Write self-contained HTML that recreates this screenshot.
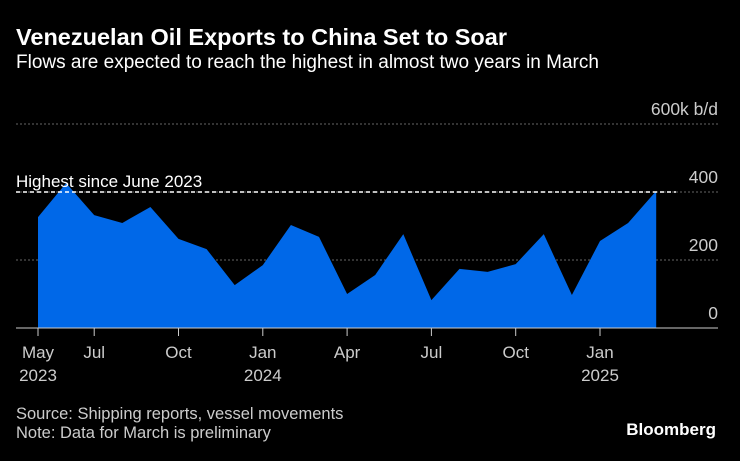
<!DOCTYPE html>
<html><head><meta charset="utf-8"><style>
body{margin:0;background:#000;width:740px;height:456px;overflow:hidden;font-family:"Liberation Sans",sans-serif;color:#fff}
svg text{font-family:"Liberation Sans",sans-serif}
</style></head><body>
<svg width="740" height="456">
<text x="16" y="45" font-size="23.5" font-weight="bold" fill="#fff">Venezuelan Oil Exports to China Set to Soar</text>
<text x="16" y="68" font-size="19" fill="#fff">Flows are expected to reach the highest in almost two years in March</text>
<g id="grid"></g>
<g id="area"></g>
<g id="xaxis"></g>
<text x="16" y="187" font-size="17" fill="#fff">Highest since June 2023</text>
<text x="16" y="419" font-size="16.5" fill="#ccc">Source: Shipping reports, vessel movements</text>
<text x="16" y="438" font-size="16.5" fill="#ccc">Note: Data for March is preliminary</text>
<text x="716" y="435" font-size="17" font-weight="bold" fill="#fff" text-anchor="end">Bloomberg</text>
</svg>
<script>
const values=[326,426,332,309,356,262,232,126,185,303,268,100,156,276,82,174,165,188,276,97,256,309,403];
const yTicks=[0,200,400,600];
const yTickLabels=["0","200","400","600k b/d"];
const xTickIdx=[0,2,5,8,11,14,17,20];
const xTickLabels=[["May","2023"],["Jul",""],["Oct",""],["Jan","2024"],["Apr",""],["Jul",""],["Oct",""],["Jan","2025"]];
const highest=400;
const NS="http://www.w3.org/2000/svg";
const x=i=>38+i*28.1;
const y=v=>328-v*68/200;
function mk(t,a,p){const e=document.createElementNS(NS,t);for(const k in a)e.setAttribute(k,a[k]);p.appendChild(e);return e;}
const grid=document.getElementById('grid'),area=document.getElementById('area'),xa=document.getElementById('xaxis');
yTicks.forEach((v,i)=>{
 if(v>0){const l=mk('line',{x1:16,x2:718,y1:y(v),y2:y(v),stroke:'#666','stroke-dasharray':'2,2'},grid);
 
 }
 const t=mk('text',{x:718,y:y(v)-9,'font-size':17.5,fill:'#ccc','text-anchor':'end'},grid);t.textContent=yTickLabels[i];
 
 
});
let d='M'+x(0)+','+y(0);
values.forEach((v,i)=>d+=' L'+x(i)+','+y(v));
d+=' L'+x(values.length-1)+','+y(0)+' Z';
const p=mk('path',{d:d,fill:'#0068e8'},area);


const hl=mk('line',{x1:16,x2:676,y1:y(highest),y2:y(highest),stroke:'#fff','stroke-width':1.5,'stroke-dasharray':'4,3'},area);


const ax=mk('line',{x1:16,x2:718,y1:328,y2:328,stroke:'#ccc'},xa);


xTickIdx.forEach((idx,k)=>{
 const tk=mk('line',{x1:x(idx),x2:x(idx),y1:328,y2:336,stroke:'#ccc'},xa);
 
 
 const t=mk('text',{x:x(idx),y:358,'font-size':17,fill:'#ccc','text-anchor':'middle'},xa);t.textContent=xTickLabels[k][0];
 
 
 if(xTickLabels[k][1]){const t2=mk('text',{x:x(idx),y:381,'font-size':17,fill:'#ccc','text-anchor':'middle'},xa);t2.textContent=xTickLabels[k][1];
 
 }
});
</script>
</body></html>
